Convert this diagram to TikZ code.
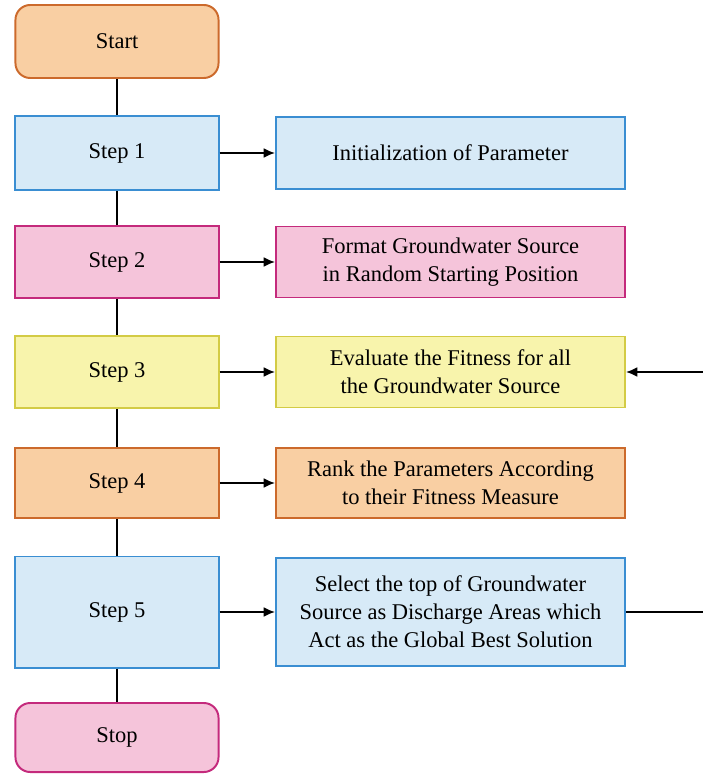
\documentclass[tikz,border=0pt]{standalone}
\usepackage{fontspec}
\setmainfont{Liberation Serif}
\usetikzlibrary{positioning, calc}
\usetikzlibrary{arrows.meta}

\definecolor{orgfill}{HTML}{F9CFA3}
\definecolor{orgline}{HTML}{CC6A2C}
\definecolor{bluefill}{HTML}{D7EAF7}
\definecolor{blueline}{HTML}{3A8ED2}
\definecolor{pinkfill}{HTML}{F5C4DA}
\definecolor{pinkline}{HTML}{C42A7C}
\definecolor{yelfill}{HTML}{F8F4AC}
\definecolor{yelline}{HTML}{D3CB45}

\tikzset{
  box/.style={draw, line width=1.4pt, inner sep=0pt, align=center,
    font=\fontsize{16}{20}\selectfont},
  leftbox/.style={box, minimum width=5.075cm},
  rightbox/.style={box, minimum width=8.725cm},
  term/.style={leftbox, rounded corners=10.5pt},
  orangebox/.style={fill=orgfill, draw=orgline},
  bluebox/.style={fill=bluefill, draw=blueline},
  pinkbox/.style={fill=pinkfill, draw=pinkline},
  yellowbox/.style={fill=yelfill, draw=yelline},
  link/.style={line width=1.2pt},
  arr/.style={line width=1.2pt, -{Latex[length=8pt, width=7pt]}}
}

\begin{document}
\begin{tikzpicture}[x=0.025cm, y=-0.025cm]

    % Rahmen
    \useasboundingbox (0,0) rectangle (702,774);

    % Linke Spalte
    \node[term, orangebox, minimum height=1.825cm] (start) at (117,41.5) {Start};
    \node[leftbox, bluebox, minimum height=1.85cm] (step1) at (117,153) {Step 1};
    \node[leftbox, pinkbox, minimum height=1.8cm] (step2) at (117,262) {Step 2};
    \node[leftbox, yellowbox, minimum height=1.8cm] (step3) at (117,372) {Step 3};
    \node[leftbox, orangebox, minimum height=1.75cm] (step4) at (117,483) {Step 4};
    \node[leftbox, bluebox, minimum height=2.775cm] (step5) at (117,612) {Step 5};
    \node[term, pinkbox, minimum height=1.725cm] (stop) at (117,737.5) {Stop};

    % Rechte Spalte
    \node[rightbox, bluebox, minimum height=1.8cm] (init) at (450.5,153) {Initialization of Parameter};
    \node[rightbox, pinkbox, minimum height=1.775cm] (format) at (450.5,262) {Format Groundwater Source\\in Random Starting Position};
    \node[rightbox, yellowbox, minimum height=1.775cm] (eval) at (450.5,372) {Evaluate the Fitness for all\\the Groundwater Source};
    \node[rightbox, orangebox, minimum height=1.75cm] (rank) at (450.5,483) {Rank the Parameters According\\to their Fitness Measure};
    \node[rightbox, bluebox, minimum height=2.7cm] (select) at (450.5,612) {Select the top of Groundwater\\Source as Discharge Areas which\\Act as the Global Best Solution};

    % Verbindungen links
    \draw[link] (start) -- (step1);
    \draw[link] (step1) -- (step2);
    \draw[link] (step2) -- (step3);
    \draw[link] (step3) -- (step4);
    \draw[link] (step4) -- (step5);
    \draw[link] (step5) -- (stop);

    % Pfeile nach rechts
    \draw[arr] (step1) -- (init);
    \draw[arr] (step2) -- (format);
    \draw[arr] (step3) -- (eval);
    \draw[arr] (step4) -- (rank);
    \draw[arr] (step5) -- (select);

    % Rueckfuehrung
    \coordinate (loop) at (708,372);
    \draw[arr] (select.east) -| (loop) |- (eval.east);

\end{tikzpicture}
\end{document}
